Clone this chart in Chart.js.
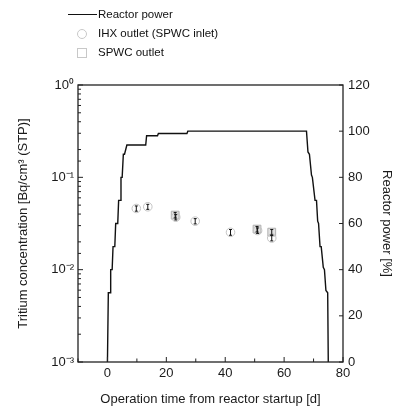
<!DOCTYPE html>
<html>
<head>
<meta charset="utf-8">
<script src="https://cdn.jsdelivr.net/npm/chart.js@4"></script>
<style>
  body { margin: 0; background: #fff; }
  #wrap { position: relative; width: 398px; height: 407px; }
  #legend { position: absolute; left: 0; top: 0; font: 11.5px "Liberation Sans", Arial, sans-serif; color: #111; }
  .row { position: absolute; white-space: nowrap; }
  .line { position: absolute; left: 68px; top: 14px; width: 29px; height: 0; border-top: 1.5px solid #111; }
  .circ { position: absolute; left: 77px; top: 29px; width: 8px; height: 8px; border: 1px solid #c8c8c8; border-radius: 50%; }
  .sq { position: absolute; left: 77px; top: 48px; width: 8px; height: 8px; border: 1px solid #c8c8c8; }
</style>
</head>
<body>
<div id="wrap">
  <canvas id="chart" width="398" height="407"></canvas>
  <div id="legend">
    <div class="line"></div>
    <div class="row" style="left:98px;top:8px">Reactor power</div>
    <div class="circ"></div>
    <div class="row" style="left:98px;top:27px">IHX outlet (SPWC inlet)</div>
    <div class="sq"></div>
    <div class="row" style="left:98px;top:46px">SPWC outlet</div>
  </div>
</div>
<script>
// ---------- DATA ----------
const powerDays = [0, 0.3, 0.9, 1.1, 1.6, 1.9, 2.5, 2.8, 3.5, 3.8, 4.3, 4.6, 5.0, 5.4, 5.8, 6.6, 13.0, 13.3, 17.0, 17.3,
  27.0, 27.3, 67.6, 68.1, 68.6, 69.3, 69.6, 70.5, 71.0, 71.4, 71.7, 72.2, 72.6, 73.3, 73.7, 74.2, 74.8, 75.0];
const powerPct = [0, 30, 30, 40, 40, 50, 50, 60, 60, 70, 70, 80, 80, 90, 90, 94, 94, 98, 98, 99,
  99, 100, 100, 91, 90, 81, 80, 70, 70, 61, 60, 50, 50, 41, 40, 31, 30, 0];

const ihxDays = [9.8, 13.7, 23.2, 29.8, 41.8, 51.0, 55.8];
const ihxConc = [0.046, 0.048, 0.037, 0.0335, 0.0254, 0.0265, 0.022];
const ihxErr = [0.003, 0.003, 0.0025, 0.0022, 0.0018, 0.0018, 0.0015];

const spwcDays = [23.0, 50.8, 55.8];
const spwcConc = [0.039, 0.0275, 0.0255];
const spwcErr = [0.0027, 0.0019, 0.0017];

const xTicks = [0, 20, 40, 60, 80];
const powerTicks = [0, 20, 40, 60, 80, 100, 120];
const sup = { "0": "\u2070", "1": "\u00b9", "2": "\u00b2", "3": "\u00b3", "-": "\u207b" };

const font = { family: '"Liberation Sans", Arial, sans-serif', size: 13 };
const ink = "#1a1a1a";

function toPts(xs, ys) {
  return xs.map((x, i) => ({ x, y: ys[i] }));
}

// ---------- PLUGINS ----------
const frame = {
  id: "frame",
  afterDatasetsDraw(chart) {
    const { ctx, chartArea: a, scales } = chart;
    ctx.save();
    // error bars
    ctx.strokeStyle = "#111";
    ctx.lineWidth = 1;
    chart.data.datasets.forEach(ds => {
      if (!ds.errors) return;
      ds.data.forEach((p, i) => {
        const e = ds.errors[i];
        const px = scales.x.getPixelForValue(p.x);
        const lo = scales.y.getPixelForValue(p.y - e);
        const hi = scales.y.getPixelForValue(p.y + e);
        ctx.beginPath();
        ctx.moveTo(px, lo); ctx.lineTo(px, hi);
        ctx.moveTo(px - 1.5, lo); ctx.lineTo(px + 1.5, lo);
        ctx.moveTo(px - 1.5, hi); ctx.lineTo(px + 1.5, hi);
        ctx.stroke();
      });
    });
    // box
    ctx.strokeStyle = "#222";
    ctx.lineWidth = 1.3;
    ctx.strokeRect(a.left, a.top, a.right - a.left, a.bottom - a.top);
    // inward ticks
    ctx.lineWidth = 1;
    scales.x.ticks.forEach(t => {
      const px = scales.x.getPixelForValue(t.value);
      const len = t.value % 20 === 0 ? 5 : 3.5;
      ctx.beginPath(); ctx.moveTo(px, a.bottom); ctx.lineTo(px, a.bottom - len); ctx.stroke();
    });
    scales.y.ticks.forEach(t => {
      const py = scales.y.getPixelForValue(t.value);
      const lg = Math.log10(t.value);
      const len = Math.abs(lg - Math.round(lg)) < 1e-6 ? 5 : 3;
      ctx.beginPath(); ctx.moveTo(a.left, py); ctx.lineTo(a.left + len, py); ctx.stroke();
    });
    scales.y2.ticks.forEach(t => {
      const py = scales.y2.getPixelForValue(t.value);
      ctx.beginPath(); ctx.moveTo(a.right, py); ctx.lineTo(a.right - 4, py); ctx.stroke();
    });
    ctx.restore();
  }
};

// ---------- CHART ----------
new Chart(document.getElementById("chart"), {
  type: "scatter",
  data: {
    datasets: [
      {
        label: "IHX outlet (SPWC inlet)",
        data: toPts(ihxDays, ihxConc),
        errors: ihxErr,
        yAxisID: "y",
        pointStyle: "circle",
        pointRadius: 4.3,
        borderColor: "#c4c4c4",
        backgroundColor: "rgba(255,255,255,0)",
        borderWidth: 1
      },
      {
        label: "SPWC outlet",
        data: toPts(spwcDays, spwcConc),
        errors: spwcErr,
        yAxisID: "y",
        pointStyle: "rect",
        pointRadius: 5.5,
        borderColor: "#b0b0b0",
        backgroundColor: "rgba(180,180,180,0.4)",
        borderWidth: 1
      },
      {
        label: "Reactor power",
        data: toPts(powerDays, powerPct),
        yAxisID: "y2",
        showLine: true,
        borderColor: "#111",
        borderWidth: 1.4,
        pointRadius: 0,
        tension: 0
      }
    ]
  },
  options: {
    responsive: false,
    animation: false,
    layout: { padding: { top: 85 } },
    plugins: { legend: { display: false }, tooltip: { enabled: false } },
    scales: {
      x: {
        type: "linear",
        min: -10,
        max: 80,
        grid: { display: false, drawTicks: false },
        border: { display: false },
        ticks: {
          stepSize: 10,
          autoSkip: false,
          maxRotation: 0,
          padding: 4,
          color: ink,
          font,
          callback: v => (xTicks.includes(v) ? String(v) : "")
        },
        title: { display: true, text: "Operation time from reactor startup [d]", color: ink, font, padding: { top: 4, bottom: 0 } },
        afterFit(s) { s.height = 45; }
      },
      y: {
        type: "logarithmic",
        position: "left",
        min: 0.001,
        max: 1,
        grid: { display: false, drawTicks: false },
        border: { display: false },
        ticks: {
          autoSkip: false,
          padding: 4,
          color: ink,
          font,
          callback: v => {
            const lg = Math.log10(v);
            if (Math.abs(lg - Math.round(lg)) > 1e-6) return "";
            return "10" + String(Math.round(lg)).split("").map(c => sup[c]).join("");
          }
        },
        title: { display: true, text: "Tritium concentration [Bq/cm\u00b3 (STP)]", color: ink, font, padding: { top: 16, bottom: 2 } },
        afterFit(s) { s.width = 78; }
      },
      y2: {
        type: "linear",
        position: "right",
        min: 0,
        max: 120,
        grid: { display: false, drawTicks: false },
        border: { display: false },
        ticks: {
          stepSize: 20,
          autoSkip: false,
          padding: 5,
          color: ink,
          font,
          callback: v => (powerTicks.includes(v) ? String(v) : "")
        },
        title: { display: true, text: "Reactor power [%]", color: ink, font, padding: { top: 4 } },
        afterFit(s) { s.width = 55; }
      }
    }
  },
  plugins: [frame]
});
</script>
</body>
</html>
